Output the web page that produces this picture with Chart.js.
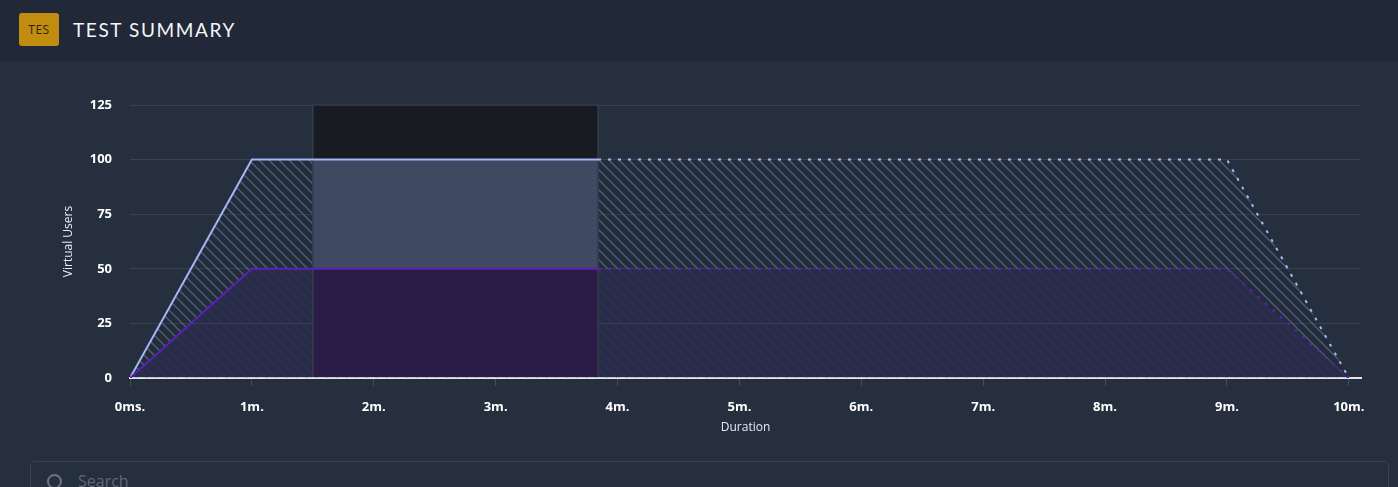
<!DOCTYPE html>
<html>
<head>
<meta charset="utf-8">
<script src="https://cdn.jsdelivr.net/npm/chart.js@4/dist/chart.umd.min.js"></script>
<style>
  html, body { margin: 0; padding: 0; background: #262f3e; overflow: hidden; }
  body { width: 1398px; height: 487px; position: relative; font-family: "Open Sans", sans-serif; }
  .header { position: absolute; left: 0; top: 0; width: 1398px; height: 61px; background: #212837; }
  .badge { position: absolute; left: 19px; top: 13px; width: 40px; height: 33px; border-radius: 3px;
           background: #c18c10; color: #2e2206; font-size: 12px; line-height: 33px; text-align: center; letter-spacing: 0.5px; }
  .title { position: absolute; left: 73px; top: 18px; color: #f4f5f7; font-size: 19px; letter-spacing: 1.6px; font-family: Lato, "Open Sans", sans-serif; }
  .wrap { position: absolute; left: 0; top: 61px; width: 1398px; height: 390px; }
  .search { position: absolute; left: 30px; top: 461px; width: 1357px; height: 40px; border: 1px solid #3a4350; border-radius: 5px; }
  .search .icon { position: absolute; left: 16px; top: 12px; width: 11px; height: 11px; border: 2px solid #6c7483; border-radius: 50%; }
  .search span { position: absolute; left: 47px; top: 8px; color: #5f6877; font-size: 16px; }
</style>
</head>
<body>
<div class="header">
  <div class="badge">TES</div>
  <div class="title">TEST SUMMARY</div>
</div>
<div class="wrap"><canvas id="myChart"></canvas></div>
<div class="search"><div class="icon"></div><span>Search</span></div>
<script>
// durations in minutes
const timeMin = [0, 1, 3.84, 9, 10];
const totalVUs = [0, 100, 100, 100, 0];
const stageVUs = [0, 50, 50, 50, 0];
const elapsedMin = 3.84;
const highlightRange = [1.5, 3.84];
const xTicks = [0, 1, 2, 3, 4, 5, 6, 7, 8, 9, 10];
const xTickLabels = ['0ms.', '1m.', '2m.', '3m.', '4m.', '5m.', '6m.', '7m.', '8m.', '9m.', '10m.'];
const yTicks = [0, 25, 50, 75, 100, 125];

function hatch(bg, stroke) {
   const c = document.createElement('canvas');
   c.width = c.height = 10;
   const g = c.getContext('2d');
   if (bg) {
      g.fillStyle = bg;
      g.fillRect(0, 0, 10, 10);
   }
   g.strokeStyle = stroke;
   g.lineWidth = 1.4;
   g.beginPath();
   g.moveTo(0, 0); g.lineTo(10, 10);
   g.moveTo(-5, 5); g.lineTo(5, 15);
   g.moveTo(5, -5); g.lineTo(15, 5);
   g.stroke();
   return g.createPattern(c, 'repeat');
}

const dotted = ctx => ctx.p0.parsed.x >= elapsedMin ? [3, 7] : undefined;

const toPoints = vals => timeMin.map((t, i) => ({x: t, y: vals[i]}));

// shaded block for the selected time window
const highlight = {
   id: 'highlight',
   beforeDatasetsDraw(chart) {
      const {ctx, scales: {x, y}} = chart;
      const x0 = x.getPixelForValue(highlightRange[0]);
      const x1 = x.getPixelForValue(highlightRange[1]);
      const yTop = y.getPixelForValue(125);
      const yBot = y.getPixelForValue(0) - 1;
      const bands = [
         [125, 100, '#181b21'],
         [100, 50, '#3f4a62'],
         [50, 0, '#2b1b47']
      ];
      ctx.save();
      bands.forEach(b => {
         const top = y.getPixelForValue(b[0]);
         const bot = b[1] === 0 ? yBot : y.getPixelForValue(b[1]);
         ctx.fillStyle = b[2];
         ctx.fillRect(x0, top, x1 - x0, bot - top);
      });
      ctx.strokeStyle = '#353d4a';
      ctx.lineWidth = 1.5;
      ctx.beginPath();
      ctx.moveTo(x0, yBot); ctx.lineTo(x0, yTop); ctx.lineTo(x1, yTop); ctx.lineTo(x1, yBot);
      ctx.stroke();
      ctx.restore();
   }
};

const chart = new Chart(document.getElementById('myChart'), {
   type: 'line',
   data: {
      datasets: [{
         label: 'Stage',
         data: toPoints(stageVUs),
         borderColor: '#5a20b8',
         borderWidth: 2,
         pointRadius: 0,
         fill: 'origin',
         backgroundColor: hatch('rgba(50,30,115,0.12)', 'rgba(80,40,170,0.28)'),
         segment: {borderDash: dotted}
      }, {
         label: 'Total',
         data: toPoints(totalVUs),
         borderColor: '#a5b6f7',
         borderWidth: 2,
         pointRadius: 0,
         fill: '-1',
         backgroundColor: hatch('rgba(20,25,40,0.12)', 'rgba(110,125,160,0.6)'),
         segment: {borderDash: dotted}
      }]
   },
   options: {
      responsive: true,
      maintainAspectRatio: false,
      animation: false,
      layout: {padding: {top: 44, right: 37, bottom: 13, left: 0}},
      plugins: {
         legend: {display: false},
         tooltip: {enabled: false},
         filler: {drawTime: 'beforeDatasetsDraw'}
      },
      scales: {
         x: {
            type: 'linear',
            min: 0,
            max: 10.1,
            afterBuildTicks: s => { s.ticks = xTicks.map(v => ({value: v})); },
            afterFit: s => { s.height = 60; },
            grid: {drawOnChartArea: false, color: '#454d5b', tickLength: 8},
            border: {color: '#e4e6ea', width: 2},
            ticks: {
               color: '#ffffff',
               font: {family: 'Open Sans', size: 13, weight: 'bold'},
               padding: 13,
               maxRotation: 0,
               callback: (v, i) => xTickLabels[i]
            },
            title: {display: true, text: 'Duration', color: '#e8eaee',
                    font: {family: 'Open Sans', size: 12}, padding: {top: 0, bottom: 3}}
         },
         y: {
            min: 0,
            max: 125,
            afterBuildTicks: s => { s.ticks = yTicks.map(v => ({value: v})); },
            afterFit: s => { s.width = 130; },
            grid: {color: '#3a424f', drawTicks: false},
            border: {display: false},
            ticks: {
               color: '#ffffff',
               font: {family: 'Open Sans', size: 13, weight: 'bold'},
               padding: 18
            },
            title: {display: true, text: 'Virtual Users', color: '#e8eaee',
                    font: {family: 'Open Sans', size: 12}, padding: {top: 61, bottom: 0}}
         }
      }
   },
   plugins: [highlight]
});
</script>
</body>
</html>
